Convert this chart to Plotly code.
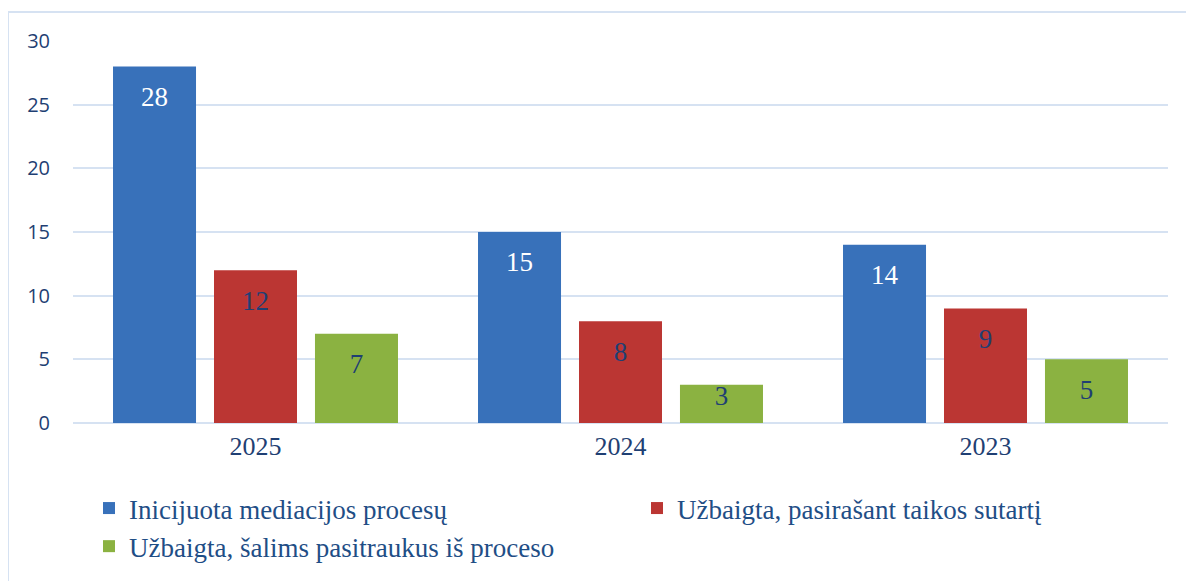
import plotly.graph_objects as go

categories = ["2025", "2024", "2023"]
series_names = [
    "Inicijuota mediacijos procesų",
    "Užbaigta, pasirašant taikos sutartį",
    "Užbaigta, šalims pasitraukus iš proceso",
]
initiated = [28, 15, 14]
settled = [12, 8, 9]
withdrawn = [7, 3, 5]
y_ticks = [0, 5, 10, 15, 20, 25, 30]

colors = ["#3871BA", "#BB3633", "#8BB241"]
label_colors = ["#FFFFFF", "#1F3F73", "#1F3F73"]
groups = ["g1", "g2", "g3"]

W, H = 1194, 581
ml, mt, pw, ph = 65, 33, 1095, 382
mr, mb = W - ml - pw, H - mt - ph

fig = go.Figure()
for name, vals, c, g in zip(series_names, [initiated, settled, withdrawn], colors, groups):
    fig.add_trace(go.Bar(
        x=categories, y=vals, name=name, offsetgroup=g,
        marker=dict(color=c, line=dict(width=0)),
        hoverinfo="skip",
    ))
for name, vals, lc, g in zip(series_names, [initiated, settled, withdrawn], label_colors, groups):
    # short bars keep their label close to the top edge (as in the original)
    sizes = [29 if v > 4 else 0 for v in vals]
    fig.add_trace(go.Scatter(
        x=categories, y=vals, offsetgroup=g, mode="markers+text",
        text=[str(v) for v in vals], textposition="bottom center",
        marker=dict(size=sizes, opacity=0),
        textfont=dict(family="Liberation Serif", size=27, color=lc),
        showlegend=False, hoverinfo="skip", cliponaxis=False,
    ))

fig.update_layout(
    width=W, height=H,
    margin=dict(l=ml, r=mr, t=mt, b=mb, autoexpand=False),
    paper_bgcolor="white", plot_bgcolor="white",
    barmode="group", bargap=0.17, bargroupgap=0.178,
    scattermode="group", scattergap=0.17,
    xaxis=dict(
        showgrid=False, showline=False, ticks="", ticklabelstandoff=5,
        tickfont=dict(family="Liberation Serif", size=26, color="#1F3F73"),
    ),
    yaxis=dict(
        range=[0, 30], tickvals=y_ticks, showgrid=True,
        gridcolor="#D6E2F2", gridwidth=2, zeroline=True, zerolinecolor="#D6E2F2",
        zerolinewidth=2, showline=False, ticks="", ticklabelstandoff=22,
        tickfont=dict(family="Open Sans", size=20, color="#1F3F73"),
    ),
    legend=dict(
        orientation="h", xref="container", yref="container",
        x=81 / W, y=1 - 476 / H, xanchor="left", yanchor="top",
        entrywidth=503, entrywidthmode="pixels",
        font=dict(family="Liberation Serif", size=27, color="#1F4E86"),
        itemclick=False,
    ),
    showlegend=True,
    shapes=[dict(
        type="rect", xref="paper", yref="paper",
        x0=(0 - ml) / pw, x1=(W + 20 - ml) / pw,
        y0=(mt + ph - H - 20) / ph, y1=(mt + ph - 4) / ph,
        line=dict(color="#D6E2F2", width=2), fillcolor="rgba(0,0,0,0)", layer="below",
    )],
)

fig.write_html("out.html")
